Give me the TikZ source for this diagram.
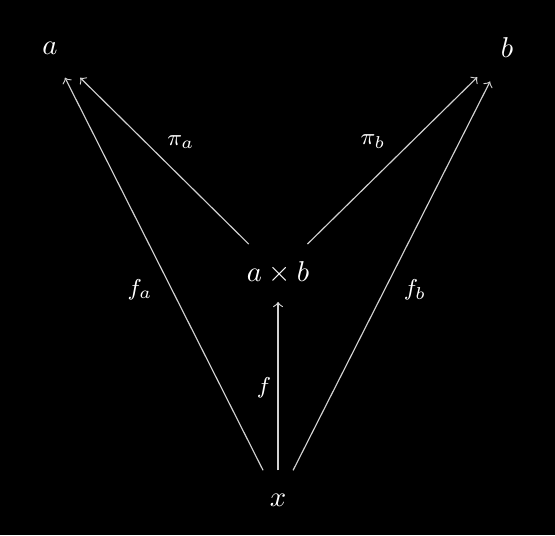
\documentclass[tikz,border=0pt]{standalone}
\usepackage{tikz}
\definecolor{arrowgray}{RGB}{210,210,210}

\begin{document}
\begin{tikzpicture}[
        obj/.style={text=white, inner sep=8pt},
        lbl/.style={text=white, font=\footnotesize},
        arr/.style={->, arrowgray}]
        \fill[black] (0,0) rectangle (6.801,6.556);
        \useasboundingbox (0,0) rectangle (6.801,6.556);

        \node[obj] (a) at (0.613,5.968) {$a$};
        \node[obj] (b) at (6.213,5.968) {$b$};
        \node[obj, inner sep=6pt] (ab) at (3.407,3.211) {$a \times b$};
        \node[obj] (x) at (3.407,0.429) {$x$};

        \draw[arr] (ab) -- (a);
        \draw[arr] (ab) -- (b);
        \draw[arr] (x) -- (ab);
        \draw[arr] (x) -- (a);
        \draw[arr] (x) -- (b);

        \node[lbl] (pia) at (2.218,4.816) {$\pi_a$};
        \node[lbl] (pib) at (4.571,4.816) {$\pi_b$};
        \node[lbl] (fa) at (1.716,3.002) {$f_a$};
        \node[lbl] (fb) at (5.086,3.002) {$f_b$};
        \node[lbl] (f) at (3.235,1.801) {$f$};
    \end{tikzpicture}
\end{document}
